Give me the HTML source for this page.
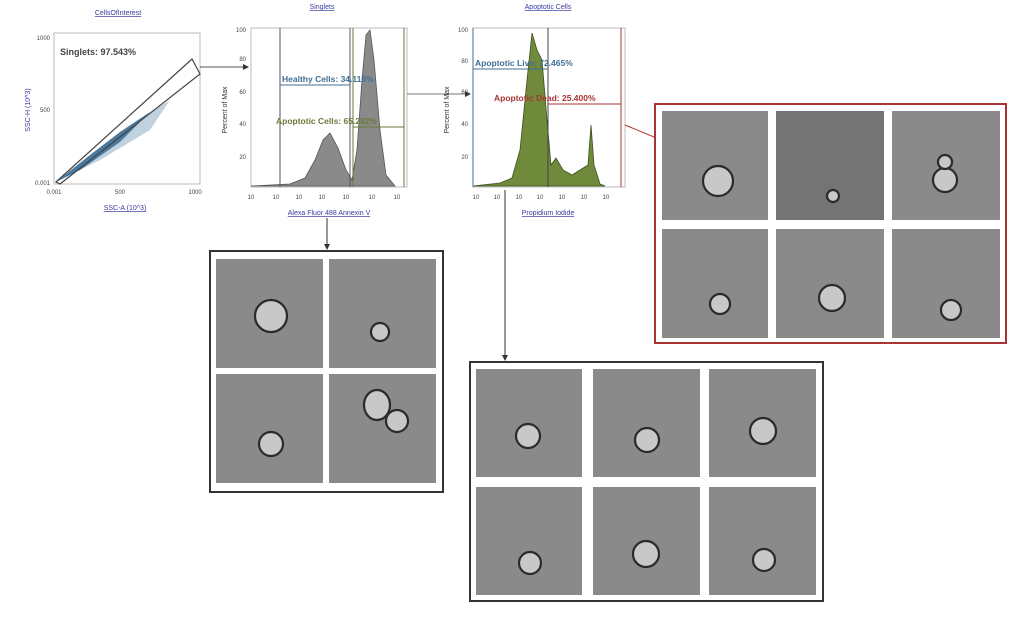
<!DOCTYPE html>
<html><head><meta charset="utf-8"><style>
html,body{margin:0;padding:0;background:#fff;width:1024px;height:621px;overflow:hidden}
svg{display:block;font-family:"Liberation Sans",sans-serif}
.t{fill:#8a8a8a}.d{fill:#747474}
.c{fill:#c8c8c8;stroke:#2a2a2a;stroke-width:2.2}
.ax{font-size:6px;fill:#444}
</style></head><body>
<svg width="1024" height="621" viewBox="0 0 1024 621">
<defs><marker id="ar" markerWidth="6" markerHeight="6" refX="5" refY="3" orient="auto"><path d="M0,0L6,3L0,6z" fill="#333"/></marker></defs>
<!-- Plot 1 -->
<text x="118" y="15" font-size="7" fill="#3a3aa0" text-anchor="middle" text-decoration="underline">CellsOfInterest</text>
<rect x="54" y="33" width="146" height="151" fill="#fff" stroke="#bbb"/>
<text x="60" y="55" font-size="9" fill="#444" font-weight="bold">Singlets: 97.543%</text>
<polygon points="56,182 90,155 120,132 150,112 120,142 80,170" fill="#2a5f8a" opacity="0.85"/>
<polygon points="60,180 130,125 170,100 150,130 100,160" fill="#4a7fa5" opacity="0.35"/>
<polygon points="56,182 192,59 200,74 60,184" fill="none" stroke="#444" stroke-width="1.2"/>
<text x="50" y="40" class="ax" text-anchor="end">1000</text>
<text x="50" y="112" class="ax" text-anchor="end">500</text>
<text x="50" y="185" class="ax" text-anchor="end">0.001</text>
<text x="54" y="194" class="ax" text-anchor="middle">0.001</text>
<text x="120" y="194" class="ax" text-anchor="middle">500</text>
<text x="195" y="194" class="ax" text-anchor="middle">1000</text>
<text x="125" y="210" font-size="7" fill="#3a3aa0" text-anchor="middle" text-decoration="underline">SSC-A (10^3)</text>
<text x="30" y="110" font-size="7" fill="#3a3aa0" text-anchor="middle" transform="rotate(-90 30 110)">SSC-H (10^3)</text>
<line x1="200" y1="67" x2="248" y2="67" stroke="#555" marker-end="url(#ar)"/>
<!-- Plot 2 -->
<text x="322" y="9" font-size="7" fill="#3a3aa0" text-anchor="middle" text-decoration="underline">Singlets</text>
<rect x="251" y="28" width="156" height="159" fill="#fff" stroke="#bbb"/>
<path d="M251,186 L290,184 L305,178 L315,160 L323,140 L330,133 L338,148 L346,170 L352,180 L357,150 L362,80 L366,35 L370,30 L374,60 L380,130 L386,175 L395,186 Z" fill="#8a8a8a" stroke="#555" stroke-width="0.8"/>
<line x1="280" y1="28" x2="280" y2="187" stroke="#556" stroke-width="1"/>
<line x1="350" y1="28" x2="350" y2="187" stroke="#556" stroke-width="1"/>
<line x1="353" y1="28" x2="353" y2="187" stroke="#6a7a3a" stroke-width="1"/>
<line x1="404" y1="28" x2="404" y2="187" stroke="#6a7a3a" stroke-width="1"/>
<text x="282" y="82" font-size="8.5" font-weight="bold" fill="#3f6f95">Healthy Cells: 34.116%</text>
<line x1="280" y1="85" x2="350" y2="85" stroke="#3f6f95"/>
<text x="276" y="124" font-size="8.5" font-weight="bold" fill="#6a7a3a">Apoptotic Cells: 65.282%</text>
<line x1="353" y1="127" x2="404" y2="127" stroke="#6a7a3a"/>
<g class="ax"><text x="246" y="32" text-anchor="end">100</text><text x="246" y="61" text-anchor="end">80</text><text x="246" y="94" text-anchor="end">60</text><text x="246" y="126" text-anchor="end">40</text><text x="246" y="159" text-anchor="end">20</text></g>
<g class="ax" text-anchor="middle"><text x="251" y="199">10</text><text x="276" y="199">10</text><text x="299" y="199">10</text><text x="322" y="199">10</text><text x="346" y="199">10</text><text x="372" y="199">10</text><text x="397" y="199">10</text></g>
<text x="227" y="110" font-size="7" fill="#333" text-anchor="middle" transform="rotate(-90 227 110)">Percent of Max</text>
<text x="329" y="215" font-size="7" fill="#3a3aa0" text-anchor="middle" text-decoration="underline">Alexa Fluor 488 Annexin V</text>
<line x1="407" y1="94" x2="470" y2="94" stroke="#777" marker-end="url(#ar)"/>
<line x1="327" y1="218" x2="327" y2="249" stroke="#333" marker-end="url(#ar)"/>
<!-- Plot 3 -->
<text x="548" y="9" font-size="7" fill="#3a3aa0" text-anchor="middle" text-decoration="underline">Apoptotic Cells</text>
<rect x="473" y="28" width="152" height="159" fill="#fff" stroke="#bbb"/>
<path d="M473,186 L500,183 L512,178 L520,150 L527,80 L532,33 L537,50 L542,60 L547,120 L551,165 L556,158 L563,170 L572,175 L580,170 L588,165 L591,125 L594,165 L600,184 L605,186 Z" fill="#6f8a3a" stroke="#3e5020" stroke-width="0.8"/>
<line x1="473" y1="28" x2="473" y2="187" stroke="#3f6f95"/>
<line x1="548" y1="28" x2="548" y2="187" stroke="#444"/>
<line x1="621" y1="28" x2="621" y2="187" stroke="#a33"/>
<text x="475" y="66" font-size="8.5" font-weight="bold" fill="#3f6f95">Apoptotic Live: 72.465%</text>
<line x1="473" y1="69" x2="548" y2="69" stroke="#3f6f95"/>
<text x="494" y="101" font-size="8.5" font-weight="bold" fill="#a33">Apoptotic Dead: 25.400%</text>
<line x1="548" y1="104" x2="621" y2="104" stroke="#a33"/>
<g class="ax"><text x="468" y="32" text-anchor="end">100</text><text x="468" y="63" text-anchor="end">80</text><text x="468" y="94" text-anchor="end">60</text><text x="468" y="126" text-anchor="end">40</text><text x="468" y="159" text-anchor="end">20</text></g>
<g class="ax" text-anchor="middle"><text x="476" y="199">10</text><text x="497" y="199">10</text><text x="519" y="199">10</text><text x="540" y="199">10</text><text x="562" y="199">10</text><text x="584" y="199">10</text><text x="606" y="199">10</text></g>
<text x="449" y="110" font-size="7" fill="#333" text-anchor="middle" transform="rotate(-90 449 110)">Percent of Max</text>
<text x="548" y="215" font-size="7" fill="#3a3aa0" text-anchor="middle" text-decoration="underline">Propidium Iodide</text>
<line x1="505" y1="190" x2="505" y2="360" stroke="#333" marker-end="url(#ar)"/>
<line x1="625" y1="125" x2="654" y2="137" stroke="#b33"/>
<!-- Box 1 -->
<rect x="210" y="251" width="233" height="241" fill="#fff" stroke="#333" stroke-width="2"/>
<rect x="216" y="259" width="107" height="109" class="t"/><rect x="329" y="259" width="107" height="109" class="t"/>
<rect x="216" y="374" width="107" height="109" class="t"/><rect x="329" y="374" width="107" height="109" class="t"/>
<circle cx="271" cy="316" r="16" class="c"/><circle cx="380" cy="332" r="9" class="c"/>
<circle cx="271" cy="444" r="12" class="c"/><ellipse cx="377" cy="405" rx="13" ry="15" class="c"/><circle cx="397" cy="421" r="11" class="c"/>
<!-- Box 2 -->
<rect x="470" y="362" width="353" height="239" fill="#fff" stroke="#333" stroke-width="2"/>
<rect x="476" y="369" width="106" height="108" class="t"/><rect x="593" y="369" width="107" height="108" class="t"/><rect x="709" y="369" width="107" height="108" class="t"/>
<rect x="476" y="487" width="106" height="108" class="t"/><rect x="593" y="487" width="107" height="108" class="t"/><rect x="709" y="487" width="107" height="108" class="t"/>
<circle cx="528" cy="436" r="12" class="c"/><circle cx="647" cy="440" r="12" class="c"/><circle cx="763" cy="431" r="13" class="c"/>
<circle cx="530" cy="563" r="11" class="c"/><circle cx="646" cy="554" r="13" class="c"/><circle cx="764" cy="560" r="11" class="c"/>
<!-- Red box -->
<rect x="655" y="104" width="351" height="239" fill="#fff" stroke="#a33" stroke-width="2"/>
<rect x="662" y="111" width="106" height="109" class="t"/><rect x="776" y="111" width="108" height="109" class="d"/><rect x="892" y="111" width="108" height="109" class="t"/>
<rect x="662" y="229" width="106" height="109" class="t"/><rect x="776" y="229" width="108" height="109" class="t"/><rect x="892" y="229" width="108" height="109" class="t"/>
<circle cx="718" cy="181" r="15" class="c"/><circle cx="833" cy="196" r="6" class="c"/><circle cx="945" cy="180" r="12" class="c"/><circle cx="945" cy="162" r="7" class="c"/>
<circle cx="720" cy="304" r="10" class="c"/><circle cx="832" cy="298" r="13" class="c"/><circle cx="951" cy="310" r="10" class="c"/>
</svg>
</body></html>
